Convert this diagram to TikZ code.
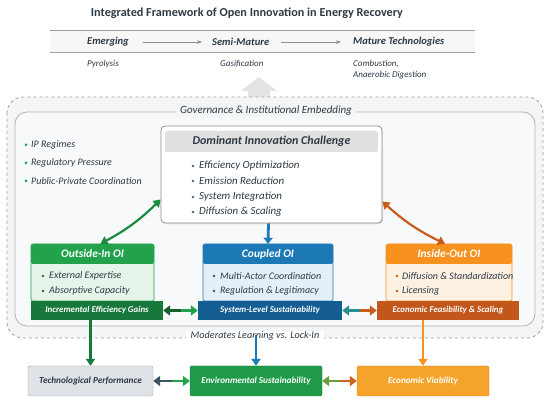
\documentclass[tikz,border=0pt]{standalone}
\usepackage{fontspec}
\setmainfont{Carlito}
\usetikzlibrary{arrows.meta,calc,shadows}
\definecolor{ink}{HTML}{2D3A45}
\definecolor{rule}{HTML}{9AA0A6}
\definecolor{bgl}{HTML}{F3F5F7}
\definecolor{G}{HTML}{22A34B}
\definecolor{Gl}{HTML}{E6F4E9}
\definecolor{Gd}{HTML}{18783B}
\definecolor{B}{HTML}{1C79B6}
\definecolor{Bl}{HTML}{E4EFF7}
\definecolor{Bd}{HTML}{145E93}
\definecolor{O}{HTML}{F7921E}
\definecolor{Ol}{HTML}{FDF1E2}
\definecolor{Od}{HTML}{C2561B}
\definecolor{EnvG}{HTML}{1F9A48}
\definecolor{EcoO}{HTML}{F4A42A}
\definecolor{TechG}{HTML}{DFE2E6}
\definecolor{slate}{HTML}{3E5566}
\definecolor{olive}{HTML}{6C9B3B}
\definecolor{teal}{HTML}{2A8F8C}
\tikzset{
  lbl/.style={font=\itshape\fontsize{9}{10}\selectfont, text=ink, inner sep=0pt, anchor=west},
  stage/.style={font=\bfseries\itshape\fontsize{10.5}{12}\selectfont, text=ink, inner sep=0pt, anchor=west},
  hdr/.style={font=\bfseries\itshape\fontsize{11.5}{12}\selectfont, text=white, inner sep=0pt, rounded corners=2pt},
  ftr/.style={font=\bfseries\itshape\fontsize{8.9}{10}\selectfont, text=white, inner sep=0pt},
  bul/.style={font=\itshape\fontsize{10}{11}\selectfont, text=ink, inner sep=0pt, anchor=west},
  outb/.style={font=\bfseries\itshape\fontsize{9.2}{11}\selectfont, inner sep=0pt, minimum height=30pt},
  thick2/.style={line width=2.8pt, -{Triangle[length=7pt,width=10pt]}},
}
\begin{document}
\begin{tikzpicture}[x=1pt,y=-1pt]
\useasboundingbox (0,0) rectangle (550,401);
\fill[white] (0,0) rectangle (550,401);
% title
\node[font=\bfseries\fontsize{12.2}{14}\selectfont, text=ink] (title) at (247,13) {Integrated Framework of Open Innovation in Energy Recovery};
% maturity band
\fill[black!3] (50,30) rectangle (475,52);
\draw[rule, line width=0.8pt] (50,30) -- (475,30);
\draw[rule, line width=0.8pt] (50,52) -- (475,52);
\node[stage] (em) at (87,42) {Emerging};
\node[stage] (sm) at (212,42) {Semi-Mature};
\node[stage] (mt) at (353,42) {Mature Technologies};
\draw[rule!90!black, line width=0.9pt, -{Stealth[length=5pt]}] ([xshift=14pt]em.east) -- ([xshift=-10pt]sm.west);
\draw[rule!90!black, line width=0.9pt, -{Stealth[length=5pt]}] ([xshift=12pt]sm.east) -- ([xshift=-12pt]mt.west);
\node[lbl] (py) at (87,64) {Pyrolysis};
\node[lbl] (ga) at (220,64) {Gasification};
\node[lbl, align=left, anchor=north west] (co) at (353,60) {Combustion,\\[1pt]Anaerobic Digestion};
% big upward arrow
\fill[black!11] (248,104) -- (248,91) -- (241,91) -- (259,77) -- (277,91) -- (270,91) -- (270,104) -- cycle;
% outer dashed and inner frames
\draw[rule, dashed, line width=0.8pt, fill=bgl, rounded corners=16pt] (7,97) rectangle (543,338);
\draw[black!30, line width=0.8pt, fill=bgl!60!white, rounded corners=12pt] (15,112) rectangle (535,326);
\node[font=\itshape\fontsize{11}{12}\selectfont, text=ink, fill=bgl, inner xsep=4pt, inner ysep=1pt] (gov) at (266,111) {Governance \& Institutional Embedding};
% governance bullets
\foreach \y/\t/\n in {145/IP Regimes/g1,163/Regulatory Pressure/g2,181/Public-Private Coordination/g3}{
  \fill[G] (26,\y) circle (1.5pt);
  \node[bul] (\n) at (31,\y) {\t};
}
% dominant innovation challenge
\node[draw=black!45, line width=0.8pt, rounded corners=4pt, fill=white, minimum width=221pt, minimum height=97pt, drop shadow={opacity=0.15, shadow xshift=1pt, shadow yshift=-1.5pt}] (dic) at (271.5,174.5) {};
\node[fill=black!12, rounded corners=2pt, minimum width=213pt, minimum height=21pt, inner sep=0pt, font=\bfseries\itshape\fontsize{12}{13}\selectfont, text=ink] (dicH) at (271.5,141.5) {Dominant Innovation Challenge};
\foreach \y/\t/\n in {166/Efficiency Optimization/d1,181/Emission Reduction/d2,197/System Integration/d3,212/Diffusion \& Scaling/d4}{
  \fill[ink!80] (193,\y) circle (1.4pt);
  \node[bul, font=\itshape\fontsize{10.9}{12}\selectfont] (\n) at (199,\y) {\t};
}
% Outside-In OI
\node[draw=G, line width=0.6pt, fill=Gl, rounded corners=2pt, minimum width=123pt, minimum height=57pt, inner sep=0pt] (oi) at (92.5,272.5) {};
\node[hdr, fill=G, minimum width=123pt, minimum height=20pt] (oiH) at (92.5,254) {Outside-In OI};
\fill[Gd] (43,276) circle (1.4pt); \node[bul] (oi1) at (49,276) {External Expertise};
\fill[Gd] (43,291) circle (1.4pt); \node[bul] (oi2) at (49,291) {Absorptive Capacity};
\node[ftr, fill=Gd, minimum width=132pt, minimum height=19pt] (oiF) at (97,310.5) {Incremental Efficiency Gains};
% Coupled OI
\node[draw=B, line width=0.6pt, fill=Bl, rounded corners=2pt, minimum width=130pt, minimum height=57pt, inner sep=0pt] (cp) at (268,272.5) {};
\node[hdr, fill=B, minimum width=130pt, minimum height=20pt] (cpH) at (268,254) {Coupled OI};
\fill[Bd] (214,276) circle (1.4pt); \node[bul] (cp1) at (220,276) {Multi-Actor Coordination};
\fill[Bd] (214,291) circle (1.4pt); \node[bul] (cp2) at (220,291) {Regulation \& Legitimacy};
\node[ftr, fill=Bd, minimum width=144pt, minimum height=19pt] (cpF) at (270,310.5) {System-Level Sustainability};
% Inside-Out OI
\node[draw=O, line width=0.6pt, fill=Ol, rounded corners=2pt, minimum width=126pt, minimum height=57pt, inner sep=0pt] (io) at (449,272.5) {};
\node[hdr, fill=O, minimum width=126pt, minimum height=20pt] (ioH) at (449,254) {Inside-Out OI};
\fill[Od] (397,276) circle (1.4pt); \node[bul] (io1) at (402,276) {Diffusion \& Standardization};
\fill[Od] (397,291) circle (1.4pt); \node[bul] (io2) at (402,291) {Licensing};
\node[ftr, fill=Od, minimum width=142pt, minimum height=19pt] (ioF) at (448,310.5) {Economic Feasibility \& Scaling};
% connectors DIC -> OI boxes
\draw[G!85!black, line width=2.2pt, {Triangle[length=7pt,width=9pt]}-{Triangle[length=7pt,width=9pt]}] ([yshift=-25pt]dic.west) to[bend left=8] ([xshift=8pt]oiH.north);
\draw[Od!90!O, line width=2.2pt, {Triangle[length=7pt,width=9pt]}-{Triangle[length=7pt,width=9pt]}] ([yshift=-27pt]dic.east) to[bend left=-8] ([xshift=-4pt]ioH.north);
\draw[B, line width=2.8pt, -{Triangle[length=6pt,width=9pt]}] ([xshift=-3pt]dic.south) -- (cpH.north);
% footer double arrows
\coordinate (m1) at ($(oiF.east)!0.5!(cpF.west)$);
\draw[Gd!80!black, thick2] (m1) -- (oiF.east);
\draw[G, thick2] (m1) -- (cpF.west);
\coordinate (m2) at ($(cpF.east)!0.5!(ioF.west)$);
\draw[teal, thick2] (m2) -- (cpF.east);
\draw[Od!90!O, thick2] (m2) -- (ioF.west);
% moderating label
\node[font=\itshape\fontsize{10.2}{11}\selectfont, text=ink, fill=white, inner xsep=5pt, inner ysep=1pt] (mod) at (255,336) {Moderates Learning vs. Lock-In};
% outcome boxes
\node[outb, draw=black!35, fill=TechG, text=ink, minimum width=125pt, rounded corners=1.5pt] (tp) at (90.5,381) {Technological Performance};
\node[outb, draw=Gd, fill=EnvG, text=white, minimum width=132pt, rounded corners=1.5pt] (es) at (256,381) {Environmental Sustainability};
\node[outb, draw=O!90!black, fill=EcoO, text=white, minimum width=132pt, rounded corners=1.5pt] (ev) at (423,381) {Economic Viability};
% outcome arrows
\draw[Gd, line width=2.2pt, -{Triangle[length=7pt,width=9pt]}] (oiF.south -| tp.north) -- (tp.north);
\draw[B, line width=2.2pt, -{Triangle[length=7pt,width=9pt]}] ([yshift=7pt]mod.south -| es.north) -- (es.north);
\draw[O, line width=2.2pt, -{Triangle[length=7pt,width=9pt]}] (ioF.south -| ev.north) -- (ev.north);
\coordinate (m3) at ($(tp.east)!0.5!(es.west)$);
\draw[slate, thick2] (m3) -- (tp.east);
\draw[G, thick2] (m3) -- (es.west);
\coordinate (m4) at ($(es.east)!0.5!(ev.west)$);
\draw[olive, thick2] (m4) -- (es.east);
\draw[Od!80!O, thick2] (m4) -- (ev.west);
\end{tikzpicture}
\end{document}
